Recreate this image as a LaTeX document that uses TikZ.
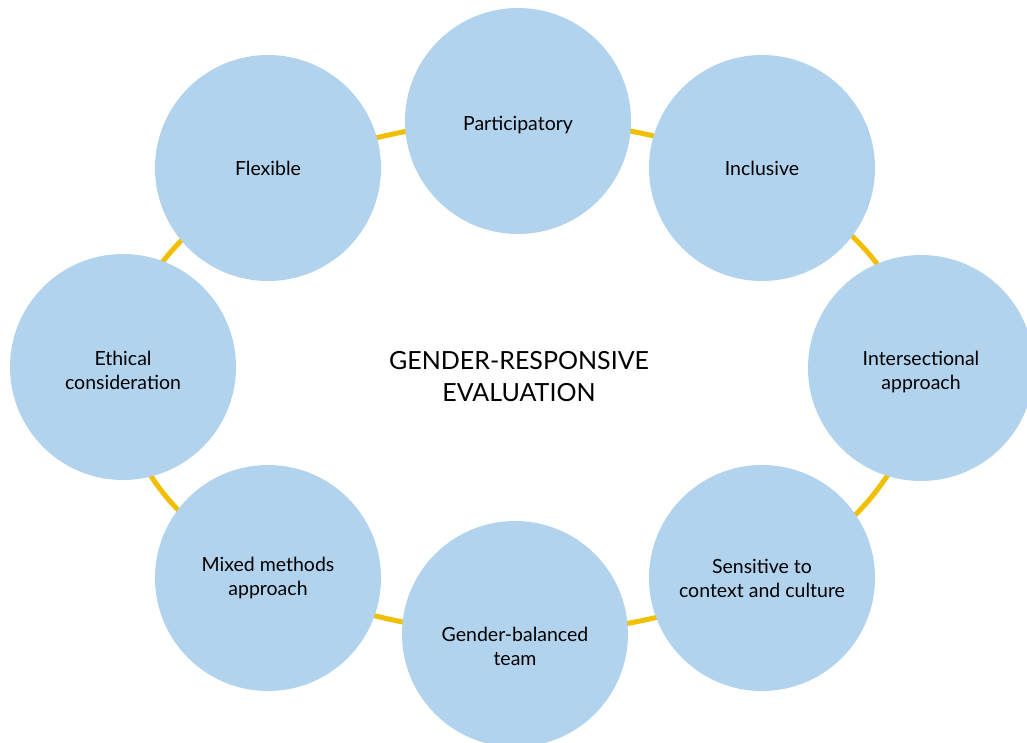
\documentclass[tikz,border=0pt]{standalone}
\usepackage{fontspec}
\setmainfont{Lato}
\definecolor{bubblefill}{RGB}{177,211,237}
\definecolor{ringgold}{RGB}{242,190,0}
\begin{document}
\begin{tikzpicture}[x=1pt,y=-1pt,
  bubble/.style={circle,fill=bubblefill,minimum size=226pt,inner sep=0pt,align=center,font=\fontsize{19.5}{24}\selectfont},
  ring/.style={draw=ringgold,line width=5pt}]
\useasboundingbox (0,0) rectangle (1027,742);
\node[align=center,font=\fontsize{25}{32}\selectfont] (hub) at (519,377) {GENDER-RESPONSIVE\\EVALUATION};
\draw[ring] (hub.center) ellipse [x radius=399pt, y radius=256pt];
\foreach \name/\x/\y/\lab in {part/518/121/{\rule{0pt}{22pt}Participatory},
    incl/762/168/{Inclusive},
    inter/921/368/{\rule{0pt}{22pt}Intersectional\\approach},
    sens/762/578/{Sensitive to\\context and culture},
    gend/515/634/{\rule{0pt}{40pt}Gender-balanced\\team},
    mixed/268/578/{Mixed methods\\approach},
    ethic/123/367/{\rule{0pt}{22pt}Ethical\\consideration},
    flex/268/168/{Flexible}}
  \node[bubble] (\name) at (\x,\y) {\lab};
\end{tikzpicture}
\end{document}
